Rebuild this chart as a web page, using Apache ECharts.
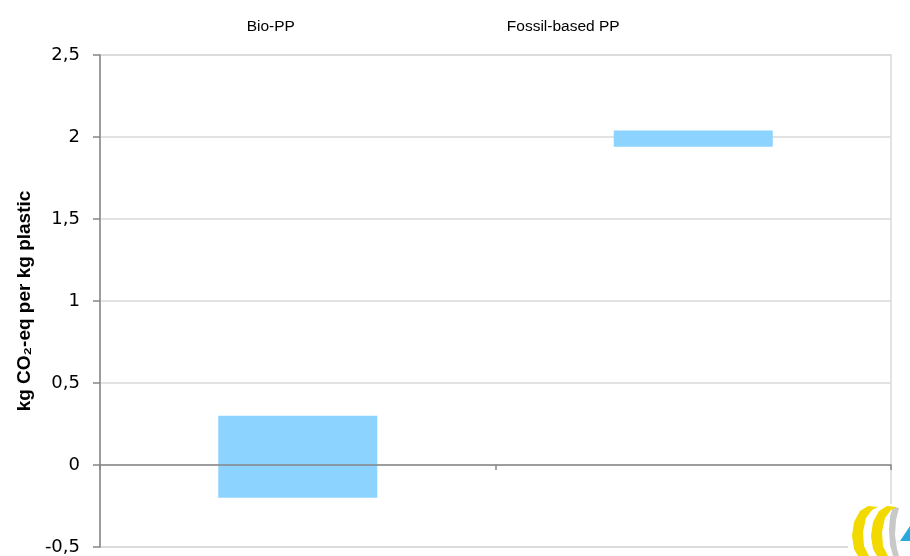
<!DOCTYPE html>
<html>
<head>
<meta charset="utf-8">
<script src="https://cdn.jsdelivr.net/npm/echarts@6/dist/echarts.min.js"></script>
<style>html,body{margin:0;padding:0;background:#fff}#c{width:910px;height:556px}</style>
</head>
<body>
<div id="c"></div>
<script>
const categories = ['Bio-PP', 'Fossil-based PP'];
const lowValues = [-0.2, 1.94];
const highValues = [0.3, 2.04];
const yTickLabels = ['-0,5', '0', '0,5', '1', '1,5', '2', '2,5'];
const yMin = -0.5, yMax = 2.5, yStep = 0.5;
const topLabelShift = [54, 260];

function crescent(dx) {
  return [[868 + dx, 506], [860 + dx, 511], [854 + dx, 522], [852 + dx, 536], [854 + dx, 549], [858 + dx, 556],
          [869 + dx, 556], [864 + dx, 546], [863 + dx, 532], [866 + dx, 518], [872 + dx, 510], [878 + dx, 507]];
}

const chart = echarts.init(document.getElementById('c'));
chart.setOption({
  animation: false,
  backgroundColor: '#fff',
  grid: { left: 100, right: 19, top: 55, bottom: 7, show: true, borderColor: '#D9D9D9', borderWidth: 1.5 },
  xAxis: [
    {
      type: 'category', data: categories, z: 10,
      axisLine: { onZero: true, lineStyle: { color: '#868686', width: 1.5 } },
      axisTick: { show: true, length: 5, lineStyle: { color: '#868686', width: 1.5 } },
      axisLabel: { show: false },
      splitLine: { show: false }
    },
    {
      type: 'category', data: categories, position: 'top',
      axisLine: { show: false }, axisTick: { show: false },
      axisLabel: {
        margin: 20,
        formatter: function (v, i) { return '{s' + i + '|' + v + '}'; },
        rich: {
          s0: { fontFamily: 'Liberation Sans', fontSize: 15.5, color: '#000', padding: [0, topLabelShift[0], 0, 0] },
          s1: { fontFamily: 'Liberation Sans', fontSize: 15.5, color: '#000', padding: [0, topLabelShift[1], 0, 0] }
        }
      }
    }
  ],
  yAxis: {
    type: 'value', min: yMin, max: yMax, interval: yStep,
    name: 'kg CO₂-eq per kg plastic', nameLocation: 'middle', nameGap: 66, nameRotate: 90,
    nameTextStyle: { fontFamily: 'Liberation Sans', fontWeight: 'bold', fontSize: 19, color: '#000' },
    axisLine: { show: true, lineStyle: { color: '#868686', width: 1.5 } },
    axisTick: { show: true, length: 7, lineStyle: { color: '#868686', width: 1.5 } },
    axisLabel: {
      margin: 20, fontFamily: 'DejaVu Sans', fontSize: 18, color: '#000',
      formatter: function (v) { return yTickLabels[Math.round((v - yMin) / yStep)]; }
    },
    splitLine: { show: true, lineStyle: { color: '#D9D9D9', width: 1.5 } }
  },
  series: [{
    type: 'custom',
    xAxisIndex: 0,
    data: categories.map(function (c, i) { return [i, lowValues[i], highValues[i]]; }),
    encode: { x: 0, y: [1, 2] },
    renderItem: function (params, api) {
      const hi = api.coord([api.value(0), api.value(2)]);
      const lo = api.coord([api.value(0), api.value(1)]);
      const bw = api.size([1, 0])[0] * 0.402;
      return {
        type: 'rect',
        shape: { x: hi[0] - bw / 2, y: hi[1], width: bw, height: lo[1] - hi[1] },
        style: { fill: '#8DD3FF' }
      };
    }
  }],
  graphic: [
    { type: 'rect', z: 100, shape: { x: 848, y: 504, width: 62, height: 52 }, style: { fill: '#fff' } },
    { type: 'polygon', z: 101, shape: { points: [[893, 507], [899, 508], [896, 520], [895, 535], [897, 549], [899, 556], [893, 556], [890, 545], [889, 530], [890, 516]] }, style: { fill: '#C8C8C8' } },
    { type: 'polygon', z: 102, shape: { points: crescent(0) }, style: { fill: '#F2DA00' } },
    { type: 'polygon', z: 102, shape: { points: crescent(19) }, style: { fill: '#F2DA00' } },
    { type: 'polygon', z: 103, shape: { points: [[900, 541], [910, 526], [910, 541]] }, style: { fill: '#29A8E0' } }
  ]
});
</script>
</body>
</html>
